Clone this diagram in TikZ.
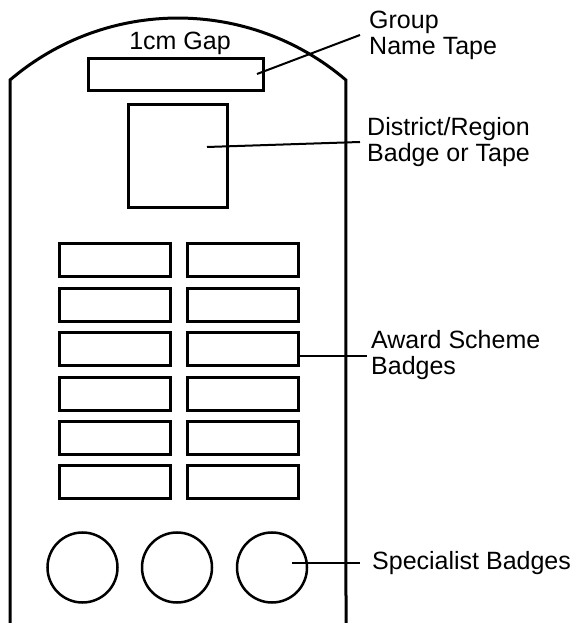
\documentclass[tikz,border=0pt]{standalone}
\usepackage{fontspec}
\setmainfont{Liberation Sans}
\begin{document}
\begin{tikzpicture}[x=1pt,y=1pt,
  shape line/.style={line width=3pt},
  badge/.style={draw,line width=3pt,rectangle,inner sep=0pt,minimum width=111pt,minimum height=33pt},
  circbadge/.style={draw,line width=2.5pt,circle,inner sep=0pt,minimum size=70pt},
  leader/.style={line width=2pt},
  lbl/.style={font=\fontsize{25}{26.5}\selectfont,align=left,inner sep=0pt,anchor=base west}]
\useasboundingbox (0,0) rectangle (573,623);
% outline
\draw[shape line] (10,0) -- (10,543) arc[start angle=130.5,end angle=49.5,radius=258.6] -- (346,0);
% tapes
\node[draw,line width=3pt,rectangle,inner sep=0pt,minimum width=175pt,minimum height=32pt] (tape) at (175.5,548) {};
\node[draw,line width=3pt,rectangle,inner sep=0pt,minimum width=99pt,minimum height=103pt] (dist) at (177.5,466.5) {};
% award badges
\foreach \i in {0,...,5}{
  \node[badge] (a\i) at (114.5,{362.5-44.4*\i}) {};
  \node[badge] (b\i) at (242.5,{362.5-44.4*\i}) {};
}
% specialist badges
\node[circbadge] (c1) at (82.5,55.5) {};
\node[circbadge] (c2) at (177,55.5) {};
\node[circbadge] (c3) at (272,55.5) {};
% labels (base anchor = baseline of last line)
\node[lbl,anchor=base] (gap) at (180,573) {1cm Gap};
\node[lbl] (lgroup) at (369,568) {Group\\Name Tape};
\node[lbl] (ldist) at (367,461) {District/Region\\Badge or Tape};
\node[lbl] (laward) at (371,248) {Award Scheme\\Badges};
\node[lbl] (lspec) at (372,53) {Specialist Badges};
% leader coordinates
\coordinate (g1) at (257,549);
\coordinate (g2) at (360,588);
\coordinate (d1) at (207,476);
\coordinate (d2) at (360,481);
\coordinate (w1) at (b2.east |- 0,267);
\coordinate (w2) at (367,267);
\coordinate (s1) at (292,60);
\coordinate (s2) at (360,60);
\draw[leader] (g1) -- (g2);
\draw[leader] (d1) -- (d2);
\draw[leader] (w1) -- (w2);
\draw[leader] (s1) -- (s2);
\end{tikzpicture}
\end{document}
